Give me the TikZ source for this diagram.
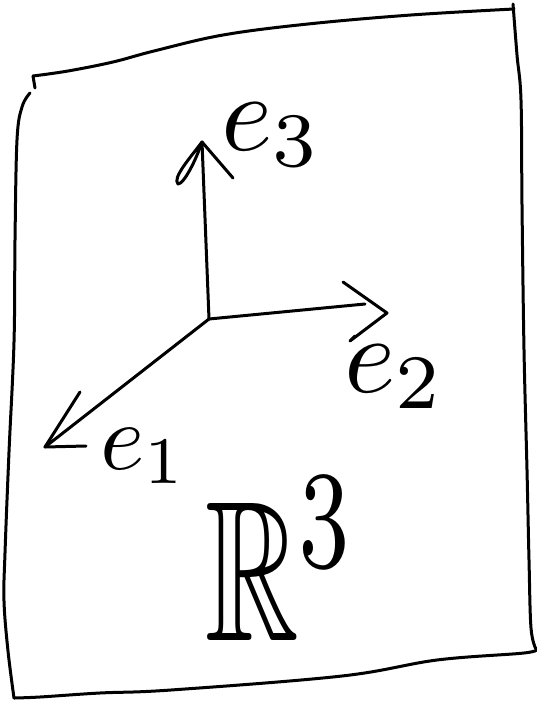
\documentclass[tikz,border=0pt]{standalone}
\usepackage{amssymb}
\begin{document}
\begin{tikzpicture}[x=1pt,y=-1pt,
  ink/.style={line width=3pt,line cap=round,line join=round,black},
  sketch/.style={ink,smooth,tension=0.6},
  lbl/.style={inner sep=0pt,outer sep=0pt,anchor=base west}]
  \useasboundingbox[fill=white] (0,0) rectangle (537,701);

  % hand-drawn sheet outline
  \draw[ink] (35,88) -- (33,76);
  \draw[ink] plot[smooth,tension=0.6] coordinates
    {(33,76) (68,71) (113,62) (154,51) (223,35) (308,24) (411,15) (514,9)};
  \draw[ink] plot[smooth,tension=0.6] coordinates
    {(513,4) (517,55) (521,100) (522,205) (524,350) (527,470) (529,560) (531,628) (536,649)};
  \draw[ink] plot[smooth,tension=0.6] coordinates
    {(536,649) (524,653) (437,660) (342,676) (171,690) (100,693) (40,697) (14,698)};
  \draw[ink] plot[smooth,tension=0.6] coordinates
    {(14,698) (8,651) (4,601) (5,553) (9,452) (14,342) (15,240) (17,140) (22,107) (30,93)};

  % axes
  \coordinate (O)  at (209,319);
  \coordinate (T3) at (202,142);
  \coordinate (E2) at (365,304);
  \coordinate (T2) at (387,313);
  \coordinate (T1) at (45,447);

  \draw[ink] (O) -- (T3);
  \draw[ink] (O) -- (E2);
  \draw[ink] (O) -- (T1);

  % arrowheads
  \draw[ink] (T3) .. controls (190,158) and (172,178) .. (178,184)
                  .. controls (184,184) and (196,160) .. (T3);
  \draw[ink] (T3) -- (233,178);
  \draw[ink] (343,282) -- (T2) -- (350,341) -- (355,336);
  \draw[ink] (80,392) -- (T1) -- (86,446);

  % labels
  \node[lbl,scale=11]  (l3) at (221,150) {$e_3$};
  \node[lbl,scale=11]  (l2) at (344,392) {$e_2$};
  \node[lbl,scale=9.5] (l1) at (100,469) {$e_1$};
  \node[lbl,xscale=13,yscale=20] (R) at (205,640) {$\mathbb{R}^3$};
\end{tikzpicture}
\end{document}
